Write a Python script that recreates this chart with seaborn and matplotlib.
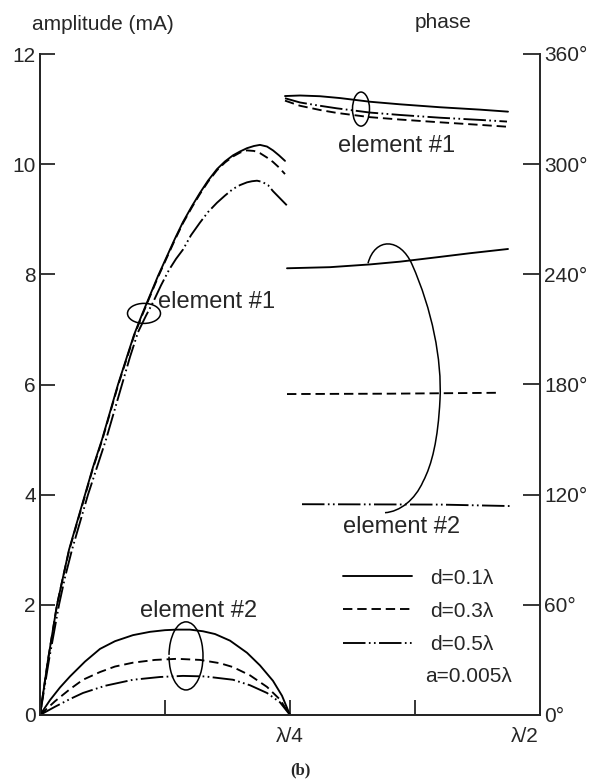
import matplotlib
matplotlib.use("Agg")
import matplotlib.pyplot as plt
import matplotlib.transforms as mtransforms
from matplotlib.path import Path
from matplotlib.patches import PathPatch, Arc, Ellipse
from matplotlib.lines import Line2D
import seaborn as sns

# ---------------- data (x in wavelengths) ----------------
series_labels = ["d=0.1λ", "d=0.3λ", "d=0.5λ"]
radius_label = "a=0.005λ"
x_tick_labels = ["λ/4", "λ/2"]
phase_tick_labels = ["0°", "60°", "120°", "180°", "240°", "300°", "360°"]

# element #1 amplitude (mA)
amp1_x_d01 = [0, 0.004, 0.008, 0.0125, 0.017, 0.023, 0.029, 0.037, 0.045, 0.053, 0.062, 0.070, 0.078, 0.086,
              0.094, 0.102, 0.110, 0.118, 0.127, 0.135, 0.143, 0.152, 0.160, 0.168, 0.177, 0.185, 0.193,
              0.200, 0.207, 0.214, 0.220, 0.227, 0.233, 0.239, 0.245]
amp1_y_d01 = [0, 0.5, 1.0, 1.5, 2.0, 2.5, 3.0, 3.5, 4.0, 4.5, 5.0, 5.5, 6.0, 6.45,
              6.9, 7.27, 7.62, 7.97, 8.33, 8.65, 8.95, 9.24, 9.48, 9.70, 9.91, 10.05, 10.16,
              10.23, 10.29, 10.33, 10.35, 10.32, 10.25, 10.16, 10.06]
amp1_x_d03 = [0, 0.004, 0.008, 0.0125, 0.017, 0.023, 0.029, 0.037, 0.045, 0.053, 0.062, 0.070, 0.078, 0.086,
              0.094, 0.102, 0.110, 0.118, 0.127, 0.135, 0.143, 0.152, 0.160, 0.168, 0.177, 0.185, 0.193,
              0.200, 0.207, 0.214, 0.220, 0.227, 0.233, 0.239, 0.245]
amp1_y_d03 = [0, 0.5, 1.0, 1.5, 2.0, 2.5, 2.98, 3.48, 3.98, 4.48, 4.98, 5.48, 5.98, 6.43,
              6.88, 7.25, 7.60, 7.95, 8.31, 8.63, 8.93, 9.22, 9.46, 9.68, 9.89, 10.03, 10.14,
              10.21, 10.25, 10.24, 10.20, 10.12, 10.04, 9.94, 9.82]
amp1_x_d05 = [0, 0.0045, 0.009, 0.014, 0.019, 0.025, 0.032, 0.040, 0.048, 0.057, 0.066, 0.074, 0.082, 0.090,
              0.098, 0.106, 0.113, 0.121, 0.129, 0.136, 0.143, 0.151, 0.160, 0.168, 0.177, 0.185, 0.193,
              0.200, 0.207, 0.212, 0.217, 0.222, 0.228, 0.233, 0.240, 0.247]
amp1_y_d05 = [0, 0.5, 1.0, 1.5, 2.0, 2.5, 3.0, 3.5, 4.0, 4.5, 5.0, 5.5, 6.0, 6.5,
              6.95, 7.25, 7.49, 7.80, 8.08, 8.28, 8.45, 8.71, 8.94, 9.13, 9.30, 9.43, 9.55,
              9.62, 9.67, 9.69, 9.70, 9.68, 9.62, 9.51, 9.38, 9.25]

# element #2 amplitude (mA)
amp2_x_d01 = [0, 0.010, 0.020, 0.030, 0.045, 0.060, 0.075, 0.093, 0.110, 0.125, 0.137, 0.150, 0.163,
              0.175, 0.190, 0.207, 0.220, 0.233, 0.242, 0.250]
amp2_y_d01 = [0, 0.27, 0.50, 0.70, 0.97, 1.20, 1.34, 1.45, 1.51, 1.54, 1.55, 1.55, 1.52,
              1.47, 1.35, 1.13, 0.90, 0.62, 0.35, 0.0]
amp2_x_d03 = [0, 0.015, 0.030, 0.043, 0.060, 0.075, 0.093, 0.115, 0.137, 0.160, 0.180, 0.193, 0.210,
              0.227, 0.240, 0.250]
amp2_y_d03 = [0, 0.25, 0.47, 0.64, 0.78, 0.88, 0.95, 1.00, 1.02, 1.00, 0.94, 0.87, 0.72,
              0.51, 0.28, 0.0]
amp2_x_d05 = [0, 0.015, 0.030, 0.043, 0.065, 0.093, 0.120, 0.143, 0.165, 0.193, 0.210, 0.227, 0.240, 0.250]
amp2_y_d05 = [0, 0.15, 0.29, 0.40, 0.53, 0.64, 0.69, 0.71, 0.70, 0.64, 0.54, 0.40, 0.23, 0.0]

# element #1 phase (deg)
ph1_x_d01 = [0.245, 0.260, 0.280, 0.300, 0.330, 0.360, 0.400, 0.440, 0.468]
ph1_y_d01 = [337.1, 337.4, 337.0, 336.0, 334.0, 332.6, 331.0, 329.7, 328.6]
ph1_x_d03 = [0.245, 0.260, 0.280, 0.297, 0.330, 0.360, 0.400, 0.440, 0.467]
ph1_y_d03 = [334.6, 331.8, 329.5, 327.9, 325.6, 324.3, 322.8, 321.4, 320.4]
ph1_x_d05 = [0.245, 0.260, 0.280, 0.297, 0.330, 0.360, 0.400, 0.440, 0.467]
ph1_y_d05 = [335.9, 333.6, 331.8, 330.4, 328.1, 326.8, 325.3, 324.1, 323.2]

# element #2 phase (deg)
ph2_x_d01 = [0.247, 0.290, 0.330, 0.360, 0.397, 0.430, 0.468]
ph2_y_d01 = [243.3, 243.9, 245.4, 246.9, 249.3, 251.5, 253.8]
ph2_x_d03 = [0.247, 0.350, 0.460]
ph2_y_d03 = [174.8, 175.0, 175.5]
ph2_x_d05 = [0.262, 0.400, 0.470]
ph2_y_d05 = [114.8, 114.6, 113.8]

# ---------------- style ----------------
sns.set_style("ticks")
plt.rcParams["font.family"] = ["Liberation Sans", "DejaVu Sans"]
plt.rcParams["axes.linewidth"] = 1.4

LW = 1.35
styles = ["-", (0, (5, 2.6)), (0, (12, 1.8, 0.9, 1.8, 0.9, 1.8))]
FS = 15

fig = plt.figure(figsize=(5.89, 7.83), dpi=100)
L, R, B, T = 40 / 589, 540 / 589, 1 - 715 / 783, 1 - 54 / 783
ax = fig.add_axes([L, B, R - L, T - B])
ax2 = ax.twinx()

amp_sets = [(amp1_x_d01, amp1_y_d01), (amp1_x_d03, amp1_y_d03), (amp1_x_d05, amp1_y_d05),
            (amp2_x_d01, amp2_y_d01), (amp2_x_d03, amp2_y_d03), (amp2_x_d05, amp2_y_d05)]
for i, (xs, ys) in enumerate(amp_sets):
    sns.lineplot(x=xs, y=ys, ax=ax, color="black", lw=LW, linestyle=styles[i % 3],
                 estimator=None, sort=False)

ph_sets = [(ph1_x_d01, ph1_y_d01), (ph1_x_d03, ph1_y_d03), (ph1_x_d05, ph1_y_d05),
           (ph2_x_d01, ph2_y_d01), (ph2_x_d03, ph2_y_d03), (ph2_x_d05, ph2_y_d05)]
for i, (xs, ys) in enumerate(ph_sets):
    sns.lineplot(x=xs, y=ys, ax=ax2, color="black", lw=LW, linestyle=styles[i % 3],
                 estimator=None, sort=False)

# ---------------- axes ----------------
ax.set_xlim(0, 0.5)
ax.set_ylim(0, 12)
ax2.set_ylim(0, 360)
for a in (ax, ax2):
    a.spines["top"].set_visible(False)
    a.set_xlabel("")
    a.set_ylabel("")
ax.spines["right"].set_visible(False)

ax.set_yticks(range(0, 13, 2))
ax.set_yticklabels([str(v) for v in range(0, 13, 2)], fontsize=FS)
ax.tick_params(axis="y", direction="in", length=11, width=1.3, pad=3)

ax.set_xticks([0.25, 0.5])
ax.set_xticklabels(x_tick_labels, fontsize=FS)
ax.set_xticks([0.125, 0.375], minor=True)
ax.tick_params(axis="x", which="both", direction="in", length=11, width=1.3, pad=9)
shift = mtransforms.ScaledTranslation(-15 / 100, 0, fig.dpi_scale_trans)
xl = ax.get_xticklabels()
xl[1].set_transform(xl[1].get_transform() + shift)

ax2.set_yticks(range(0, 361, 60))
ax2.set_yticklabels(phase_tick_labels, fontsize=FS)
ax2.tick_params(axis="y", direction="in", length=12, width=1.3, pad=3)

# ---------------- texts ----------------
fig.text(32 / 589, 1 - 25 / 783, "amplitude (mA)", fontsize=FS, ha="left", va="center")
fig.text(415 / 589, 1 - 22 / 783, "phase", fontsize=FS, ha="left", va="center")
fig.text(300 / 589, 1 - 770 / 783, "(b)", fontsize=12, ha="center", va="center",
         family="Liberation Serif", fontweight="bold")


def P(px, py):
    return ((px - 40) / 1000.0, (715 - py) / 55.0)


EFS = 17
ax.text(*P(158, 303), "element #1", fontsize=EFS, ha="left", va="center")
ax.text(*P(140, 611), "element #2", fontsize=EFS, ha="left", va="center")
ax.text(*P(338, 147), "element #1", fontsize=EFS, ha="left", va="center")
ax.text(*P(343, 527), "element #2", fontsize=EFS, ha="left", va="center")

# bracket loops
ax.add_patch(Ellipse(P(144, 314), 33 / 1000, 20 / 55, fill=False, lw=1.1, color="black"))
ax.add_patch(Arc(P(186, 656), 34 / 1000, 68 / 55, theta1=220, theta2=492, lw=1.1, color="black"))
ax.add_patch(Ellipse(P(361, 110), 17 / 1000, 34 / 55, fill=False, lw=1.1, color="black"))
verts = [P(368, 264), P(375, 238), P(400, 238), P(412, 265),
         P(432, 310), P(442, 360), P(440, 400),
         P(438, 440), P(432, 465), P(423, 482),
         P(415, 500), P(400, 512), P(385, 513)]
codes = [Path.MOVETO] + [Path.CURVE4] * 12
ax.add_patch(PathPatch(Path(verts, codes), fill=False, lw=1.1, color="black"))

# legend
handles = [Line2D([0], [0], color="black", lw=LW, linestyle=s) for s in styles]
leg = ax.legend(handles, series_labels, loc="upper left", bbox_to_anchor=(0.606, 0.2215),
                frameon=False, fontsize=FS, handlelength=3.3, handletextpad=0.9,
                labelspacing=0.68, borderaxespad=0, borderpad=0)
ax.text(*P(512, 677), radius_label, fontsize=FS, ha="right", va="center")

fig.savefig("out.png", dpi=100)
